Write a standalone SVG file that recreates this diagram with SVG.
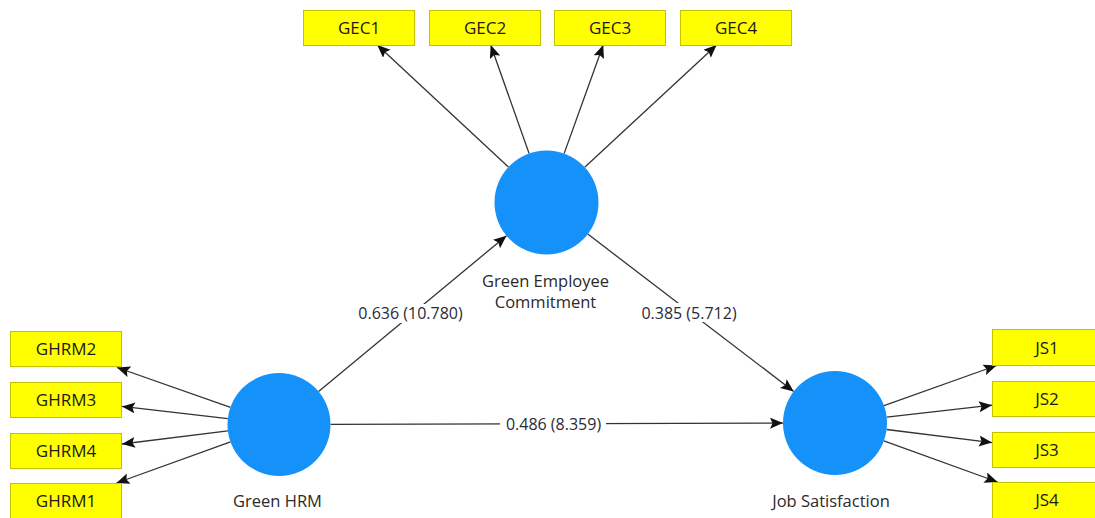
<svg xmlns="http://www.w3.org/2000/svg" width="1095" height="518" viewBox="0 0 1095 518">
  <style>
    .ind rect { fill: #ffff00; stroke: #c2c200; stroke-width: 1; }
    .ind text { font-family: "Open Sans", "Liberation Sans", sans-serif; font-size: 17px; fill: #1a1a1a; text-anchor: middle; }
    .lv circle { fill: #1591fa; }
    .lv text { font-family: "Open Sans", "Liberation Sans", sans-serif; font-size: 16.5px; fill: #2a2a2a; text-anchor: middle; }
    .edges line { stroke: #333; stroke-width: 1.3; marker-end: url(#arrow); }
    .coef rect { fill: #fff; }
    .coef text { font-family: "Open Sans", "Liberation Sans", sans-serif; font-size: 16px; fill: #2a2a3a; text-anchor: middle; }
  </style>
  <defs>
    <marker id="arrow" markerUnits="userSpaceOnUse" markerWidth="15" markerHeight="13" refX="13" refY="5.5" orient="auto">
      <path d="M0,0 L13,5.5 L0,11 L2.5,5.5 Z" fill="#111"/>
    </marker>
  </defs>
  <rect width="1095" height="518" fill="#fff"/>

  <!-- connectors -->
  <g class="edges">
    <!-- Green Employee Commitment -> GEC indicators -->
    <line x1="508.4" y1="167.1" x2="377.3" y2="45"/>
    <line x1="529.1" y1="153.5" x2="490.7" y2="45"/>
    <line x1="564.1" y1="153.6" x2="603.2" y2="45"/>
    <line x1="584.7" y1="167.2" x2="716.6" y2="45"/>
    <!-- Green HRM -> GHRM indicators -->
    <line x1="230.5" y1="407.3" x2="117" y2="367.5"/>
    <line x1="227.8" y1="418.6" x2="122" y2="406.4"/>
    <line x1="227.9" y1="430.9" x2="122" y2="444"/>
    <line x1="230.5" y1="441.9" x2="116.5" y2="483"/>
    <!-- Job Satisfaction -> JS indicators -->
    <line x1="884" y1="405.6" x2="996.5" y2="365.5"/>
    <line x1="886.7" y1="417.2" x2="992" y2="405.2"/>
    <line x1="886.6" y1="429.5" x2="992" y2="442.6"/>
    <line x1="883.9" y1="440.8" x2="997.5" y2="482"/>
    <!-- structural paths -->
    <line x1="318.6" y1="391.6" x2="506.5" y2="235.7"/>
    <line x1="587.8" y1="234.1" x2="793.7" y2="391.4"/>
    <line x1="330.5" y1="424.4" x2="783" y2="423.1"/>
  </g>

  <!-- path coefficients -->
  <g class="coef">
    <rect x="354" y="304" width="114" height="19"/>
    <text x="410.5" y="319">0.636 (10.780)</text>
    <rect x="637" y="303" width="106" height="19"/>
    <text x="689" y="318.5">0.385 (5.712)</text>
    <rect x="500" y="414" width="106" height="19"/>
    <text x="553.5" y="429.5">0.486 (8.359)</text>
  </g>

  <!-- latent variables -->
  <g id="gec" class="lv">
    <circle cx="546.5" cy="202.5" r="52"/>
    <text x="545.5" y="287">Green Employee</text>
    <text x="545.5" y="308">Commitment</text>
  </g>
  <g id="ghrm" class="lv">
    <circle cx="279" cy="424.5" r="51.5"/>
    <text x="277.5" y="506.5">Green HRM</text>
  </g>
  <g id="js" class="lv">
    <circle cx="835" cy="423" r="52"/>
    <text x="831" y="506.5">Job Satisfaction</text>
  </g>

  <!-- indicators -->
  <g id="gec1" class="ind"><rect x="303.5" y="10.5" width="111" height="35"/><text x="359" y="34">GEC1</text></g>
  <g id="gec2" class="ind"><rect x="429.5" y="10.5" width="111" height="35"/><text x="485" y="34">GEC2</text></g>
  <g id="gec3" class="ind"><rect x="554.5" y="10.5" width="111" height="35"/><text x="610" y="34">GEC3</text></g>
  <g id="gec4" class="ind"><rect x="680.5" y="10.5" width="111" height="35"/><text x="736" y="34">GEC4</text></g>

  <g id="ghrm2" class="ind"><rect x="10.5" y="331.5" width="111" height="35"/><text x="66" y="355">GHRM2</text></g>
  <g id="ghrm3" class="ind"><rect x="10.5" y="382.5" width="111" height="35"/><text x="66" y="406">GHRM3</text></g>
  <g id="ghrm4" class="ind"><rect x="10.5" y="433.5" width="111" height="35"/><text x="66" y="457">GHRM4</text></g>
  <g id="ghrm1" class="ind"><rect x="10.5" y="483.5" width="111" height="35"/><text x="66" y="507">GHRM1</text></g>

  <g id="js1" class="ind"><rect x="992.5" y="329.5" width="110" height="36"/><text x="1047" y="353.5">JS1</text></g>
  <g id="js2" class="ind"><rect x="992.5" y="381.5" width="110" height="35"/><text x="1047" y="405">JS2</text></g>
  <g id="js3" class="ind"><rect x="992.5" y="432.5" width="110" height="35"/><text x="1047" y="456">JS3</text></g>
  <g id="js4" class="ind"><rect x="992.5" y="482.5" width="110" height="36"/><text x="1047" y="506">JS4</text></g>
</svg>
